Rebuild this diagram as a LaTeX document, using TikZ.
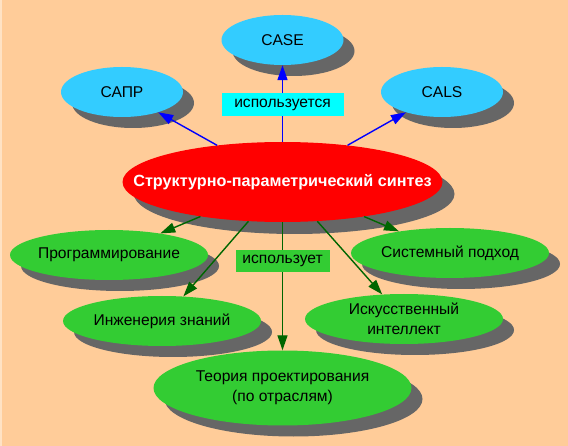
\documentclass[tikz,border=0pt]{standalone}
\usepackage{fontspec}
\setmainfont{Liberation Sans}
\usetikzlibrary{shapes.geometric,arrows.meta,shadows}
\definecolor{bg}{HTML}{FFCC99}
\definecolor{bgedge}{HTML}{FFE2C4}
\definecolor{skyc}{HTML}{33CCFF}
\definecolor{grn}{HTML}{33CC33}
\definecolor{shd}{HTML}{666666}
\definecolor{dgrn}{HTML}{006600}
\definecolor{lblcyan}{HTML}{00FFFF}
\begin{document}
\begin{tikzpicture}[x=1pt,y=-1pt,
  ell/.style={ellipse, inner sep=0pt, draw=none,
    drop shadow={shadow xshift=11pt, shadow yshift=-11pt, opacity=1, fill=shd}},
  txt/.style={font=\fontsize{15.6}{20.5}\selectfont, align=center, inner sep=0pt},
  blueell/.style={ell, fill=skyc, minimum width=122pt, minimum height=50pt},
  greenell/.style={ell, fill=grn, minimum width=198pt, minimum height=50pt},
  bluearr/.style={draw=blue, line width=1.4pt, -{Triangle[length=15pt,width=10pt]}},
  greenarr/.style={draw=dgrn, line width=1.4pt, -{Triangle[length=15pt,width=10pt]}},
  lblbox/.style={txt, minimum height=23pt}
]
\fill[bg] (0,0) rectangle (568,446);
\fill[bgedge] (0,0) rectangle (1.5,446);
\useasboundingbox (0,0) rectangle (568,446);

% ellipses
\node[blueell, label={[txt]center:CASE}] (case) at (282.5,40) {};
\node[blueell, label={[txt]center:САПР}] (capr) at (122,92) {};
\node[blueell, label={[txt]center:CALS}] (cals) at (442,92) {};
\node[ell, fill=red, minimum width=320pt, minimum height=80pt,
  drop shadow={shadow xshift=12pt, shadow yshift=-12pt, opacity=1, fill=shd},
  label={[txt, text=white, font=\fontsize{16.2}{20}\selectfont\bfseries]center:Структурно-параметрический синтез}] (red) at (282.5,182) {};
\node[greenell, label={[txt]center:Программирование}] (prog) at (109,255) {};
\node[greenell, label={[txt]center:Системный подход}] (sist) at (450,253) {};
\node[greenell, label={[txt]center:Инженерия знаний}] (inzh) at (162,321) {};
\node[greenell, label={[txt]center:Искусственный\\интеллект}] (iskus) at (404,319) {};
\node[ell, fill=grn, minimum width=258pt, minimum height=75pt,
  label={[txt]center:Теория проектирования\\(по отраслям)}] (teor) at (282.5,388) {};

% connectors
\draw[bluearr] (red) -- (capr);
\draw[bluearr] (red) -- (case);
\draw[bluearr] (red) -- (cals);
\draw[greenarr] (red) -- (prog);
\draw[greenarr] (red) -- (inzh);
\draw[greenarr] (red) -- (teor);
\draw[greenarr] (red) -- (sist);
\draw[greenarr] (red) -- (iskus);

% labels
\node[lblbox, fill=lblcyan, minimum width=122pt] (lbl1) at (282.5,105) {используется};
\node[lblbox, fill=grn, minimum width=94pt, minimum height=22pt] (lbl2) at (282.5,261) {использует};
\end{tikzpicture}
\end{document}
